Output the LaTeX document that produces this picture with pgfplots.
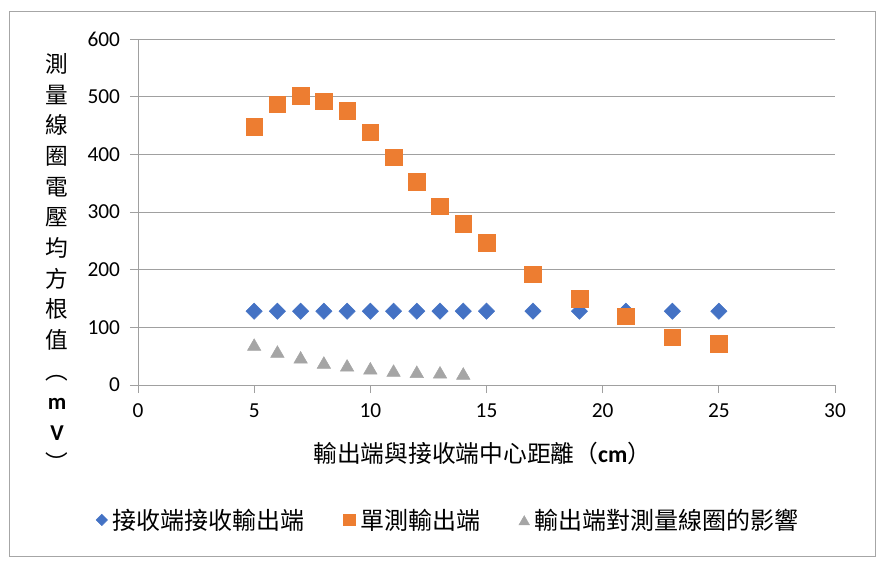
\documentclass[border=0pt]{standalone}
\usepackage{fontspec}
\setmainfont{Carlito}
\newfontfamily\cjk{Noto Sans CJK TC}
\usepackage{pgfplots}
\pgfplotsset{compat=1.18}
\definecolor{sBlue}{HTML}{4472C4}
\definecolor{sOrange}{HTML}{ED7D31}
\definecolor{sGray}{HTML}{A5A5A5}
\definecolor{gridc}{HTML}{A0A0A0}
\definecolor{framec}{HTML}{A6A6A6}
\begin{document}
\begin{tikzpicture}
% picture size 886x565 px at 0.75pt per px
\path (0,0) rectangle (664.5pt,423.75pt);
\draw[framec, line width=0.75pt] (7.125pt,6.75pt) rectangle (656.25pt,414.75pt);
\begin{axis}[
    at={(103.5pt,135pt)}, anchor=south west,
    scale only axis, width=522.75pt, height=259.5pt,
    xmin=0, xmax=30, ymin=0, ymax=600,
    xtick={0,5,...,30}, ytick={0,100,...,600},
    axis x line*=bottom, axis y line*=left,
    axis line style={gridc, line width=0.75pt},
    tick align=outside, major tick length=6pt,
    tick style={gridc, line width=0.75pt},
    ymajorgrids=true,
    grid style={gridc, line width=0.75pt},
    /pgf/number format/assume math mode=true,
    ticklabel style={font=\fontsize{16}{18}\selectfont},
    yticklabel style={xshift=-4pt},
    xticklabel style={yshift=-4.5pt},
    xlabel={輸出端與接收端中心距離（{\normalfont\bfseries cm}）},
    every axis x label/.style={at={(axis description cs:0.494,-0.199)}, anchor=center,
        font=\cjk\fontsize{17.8}{20}\selectfont},
    ylabel={測\\量\\線\\圈\\電\\壓\\均\\方\\根\\值\\︵\\{\normalfont\bfseries m}\\{\normalfont\bfseries V}\\︶},
    every axis y label/.style={at={(axis description cs:-0.116,0.355)}, anchor=center,
        align=center, font=\cjk\fontsize{17}{23}\selectfont},
    legend columns=3,
    legend style={at={(axis description cs:0.446,-0.39)}, anchor=center,
        draw=none, fill=none, font=\cjk\fontsize{18}{20}\selectfont,
        /tikz/every odd column/.append style={column sep=2pt},
        /tikz/every even column/.append style={column sep=27pt}},
]

\addplot[only marks, color=sBlue, mark=square*, mark size=4.3pt,
    mark options={rotate=45},
    legend image post style={mark size=3pt}]
    coordinates {
        (5,128) (6,128) (7,128) (8,128) (9,128) (10,128) (11,128) (12,128)
        (13,128) (14,128) (15,128) (17,128) (19,128) (21,128) (23,128) (25,128)
    };

\addplot[only marks, color=sOrange, mark=square*, mark size=6.25pt,
    legend image post style={mark size=4.3pt}]
    coordinates {
        (5,448) (6,487) (7,502) (8,492) (9,475) (10,438) (11,395) (12,353)
        (13,310) (14,280) (15,247) (17,192) (19,149) (21,119) (23,83) (25,71)
    };

\addplot[only marks, color=sGray, mark=triangle*, mark size=5.8pt,
    mark options={yshift=-1.45pt},
    legend image post style={mark size=4.6pt}]
    coordinates {
        (5,70) (6,58) (7,48) (8,39) (9,34) (10,29) (11,25) (12,23) (13,22) (14,20)
    };

\legend{接收端接收輸出端, 單測輸出端, 輸出端對測量線圈的影響}

\end{axis}
\end{tikzpicture}
\end{document}
